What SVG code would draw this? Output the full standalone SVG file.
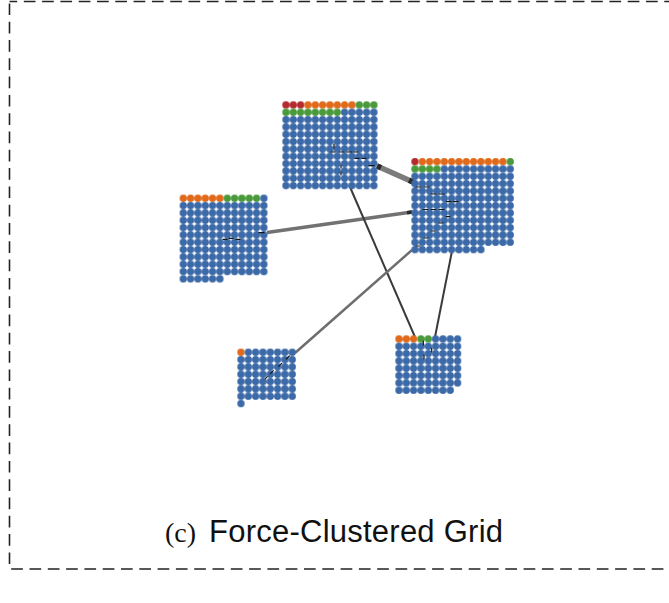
<svg xmlns="http://www.w3.org/2000/svg" width="669" height="603" viewBox="0 0 669 603">
<style>
.frame{fill:none;stroke:#222;stroke-width:1.6;stroke-dasharray:11.7 6.6;stroke-dashoffset:4}
.cap{font-family:"Liberation Serif",serif;font-size:28px;fill:#111}
.lbl{font-family:"Liberation Sans",Arial,sans-serif;font-size:31px;fill:#111}
.eg{fill:none;stroke-linecap:butt}
.mk{fill:none;stroke:#151515;stroke-width:1.2;stroke-linecap:round}
</style>
<defs>
<pattern id="pb" width="7.33" height="7.33" patternUnits="userSpaceOnUse"><circle cx="3.665" cy="3.665" r="3.64" fill="#3c6aa8"/></pattern>
<pattern id="po" width="7.33" height="7.33" patternUnits="userSpaceOnUse"><circle cx="3.665" cy="3.665" r="3.64" fill="#e0691a"/></pattern>
<pattern id="pr" width="7.33" height="7.33" patternUnits="userSpaceOnUse"><circle cx="3.665" cy="3.665" r="3.64" fill="#b42a2e"/></pattern>
<pattern id="pg" width="7.33" height="7.33" patternUnits="userSpaceOnUse"><circle cx="3.665" cy="3.665" r="3.64" fill="#4a9a3b"/></pattern>
</defs>
<rect x="0" y="0" width="669" height="603" fill="#fff"/>
<rect class="frame" x="9.5" y="1.5" width="700" height="567.5"/>

<g id="connectors">
<line class="eg" x1="377" y1="166" x2="413" y2="182" stroke="#7c7c7c" stroke-width="5.5"/>
<line class="eg" x1="377" y1="166" x2="381" y2="167.8" stroke="#2a2a2a" stroke-width="5.5"/>
<line class="eg" x1="409" y1="180.2" x2="413" y2="182" stroke="#2a2a2a" stroke-width="5.5"/>
<line class="eg" x1="267" y1="232.5" x2="412" y2="212" stroke="#727272" stroke-width="3.5"/>
<line class="eg" x1="407" y1="212.7" x2="412" y2="212" stroke="#2a2a2a" stroke-width="3.5"/>
<line class="eg" x1="350" y1="187" x2="415" y2="337" stroke="#3a3a3a" stroke-width="2"/>
<line class="eg" x1="452" y1="251" x2="435" y2="337" stroke="#3a3a3a" stroke-width="2"/>
<line class="eg" x1="295" y1="353" x2="412" y2="250" stroke="#6e6e6e" stroke-width="2.5"/>
</g>

<g id="cluster-1" transform="translate(282.3,101.3)">
<rect x="0" y="0" width="21.99" height="7.33" fill="url(#pr)"/>
<rect x="21.99" y="0" width="51.31" height="7.33" fill="url(#po)"/>
<rect x="73.3" y="0" width="21.99" height="7.33" fill="url(#pg)"/>
<rect x="0" y="7.33" width="58.64" height="7.33" fill="url(#pg)"/>
<rect x="58.64" y="7.33" width="36.65" height="7.33" fill="url(#pb)"/>
<rect x="0" y="14.66" width="95.29" height="73.3" fill="url(#pb)"/>
</g>

<g id="cluster-2" transform="translate(411.3,158)">
<rect x="0" y="0" width="7.33" height="7.33" fill="url(#pr)"/>
<rect x="7.33" y="0" width="87.96" height="7.33" fill="url(#po)"/>
<rect x="95.29" y="0" width="7.33" height="7.33" fill="url(#pg)"/>
<rect x="0" y="7.33" width="29.32" height="7.33" fill="url(#pg)"/>
<rect x="29.32" y="7.33" width="73.3" height="7.33" fill="url(#pb)"/>
<rect x="0" y="14.66" width="102.62" height="73.3" fill="url(#pb)"/>
<rect x="0" y="87.96" width="73.3" height="7.33" fill="url(#pb)"/>
</g>

<g id="cluster-3" transform="translate(179.6,194.6)">
<rect x="0" y="0" width="43.98" height="7.33" fill="url(#po)"/>
<rect x="43.98" y="0" width="36.65" height="7.33" fill="url(#pg)"/>
<rect x="80.63" y="0" width="7.33" height="7.33" fill="url(#pb)"/>
<rect x="0" y="7.33" width="87.96" height="73.3" fill="url(#pb)"/>
<rect x="0" y="80.63" width="43.98" height="7.33" fill="url(#pb)"/>
</g>

<g id="cluster-4" transform="translate(237.3,348.6)">
<rect x="0" y="0" width="7.33" height="7.33" fill="url(#po)"/>
<rect x="7.33" y="0" width="51.31" height="7.33" fill="url(#pb)"/>
<rect x="0" y="7.33" width="58.64" height="43.98" fill="url(#pb)"/>
<rect x="0" y="51.31" width="7.33" height="7.33" fill="url(#pb)"/>
</g>

<g id="cluster-5" transform="translate(395.3,335.3)">
<rect x="0" y="0" width="21.99" height="7.33" fill="url(#po)"/>
<rect x="21.99" y="0" width="14.66" height="7.33" fill="url(#pg)"/>
<rect x="36.65" y="0" width="29.32" height="7.33" fill="url(#pb)"/>
<rect x="0" y="7.33" width="65.97" height="43.98" fill="url(#pb)"/>
<rect x="0" y="51.31" width="58.64" height="7.33" fill="url(#pb)"/>
</g>

<g id="intra-edges" class="mk">
<path d="M331 152h4M339 152h5M347 152h5M354 152h4M355 158.3h4M362 158.3h4M369 165.7h5M334 144v4M341 165v3M341 172v3"/>
<path d="M416 187h5M424 187h5M431 194h5M439 194h5M446 201.7h5M453 201.7h5M423 209.5h5M431 209.5h5M439 209.5h5M446 216.7h4M439 223h4M431 231h4M424 238h4M416 246h4"/>
<path d="M223 239.3h4M229 238.3h4M236 239.3h4M259 232.7h5"/>
<path d="M289.3 356l-3 3M281.7 363.3l-3 3M273.3 370.7l-3 3M267.3 376.7l-2 2"/>
<path d="M423.3 341v4M431.7 348v4M424 355v4"/>
</g>

<g id="caption">
<text class="cap" x="165" y="541.5">(c)</text>
<text class="lbl" x="209" y="541.5" textLength="294">Force-Clustered Grid</text>
</g>
</svg>
